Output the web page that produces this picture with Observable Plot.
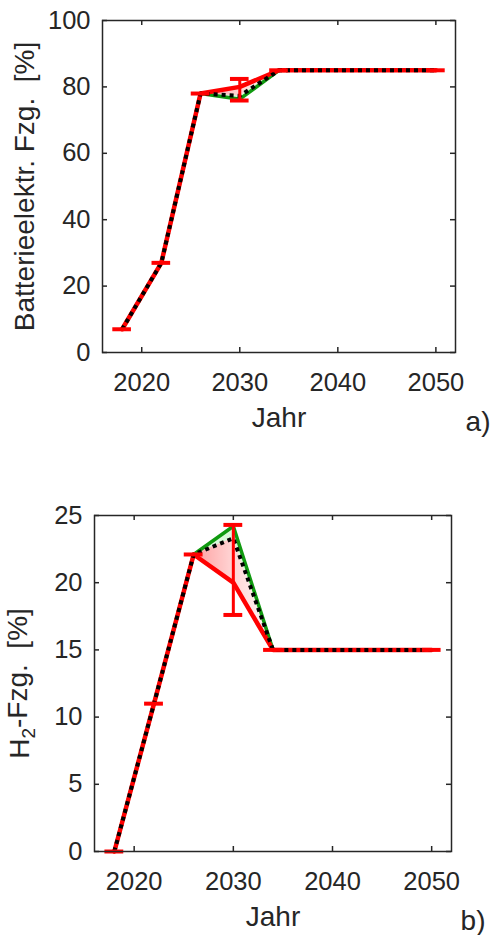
<!DOCTYPE html>
<html><head><meta charset="utf-8">
<script src="https://cdn.jsdelivr.net/npm/d3@7"></script>
<script src="https://cdn.jsdelivr.net/npm/@observablehq/plot@0.6"></script>
<style>
body{margin:0;background:#fff;}
#chart{width:491px;height:935px;overflow:hidden;}
svg{display:block;}
</style>
</head><body><div id="chart"></div>
<script>
const years = [2018, 2022, 2026, 2030, 2034, 2050];
const xTicks = [2020, 2030, 2040, 2050];

// Panel a) Batterieelektr. Fzg. [%]
const aMid   = [7, 27, 78, 77.3, 85, 85];
const aRed   = [7, 27, 78, 80.0, 85, 85];
const aGreen = [7, 27, 78, 76.3, 85, 85];
const aLo    = [7, 27, 78, 75.9, 85, 85];
const aHi    = [7, 27, 78, 82.4, 85, 85];
const aTicks = [0, 20, 40, 60, 80, 100];

// Panel b) H2-Fzg. [%]
const bMid   = [0, 11, 22.1, 23.3, 15, 15];
const bRed   = [0, 11, 22.1, 20.0, 15, 15];
const bGreen = [0, 11, 22.1, 24.2, 15, 15];
const bLo    = [0, 11, 22.1, 17.6, 15, 15];
const bHi    = [0, 11, 22.1, 24.3, 15, 15];
const bTicks = [0, 5, 10, 15, 20, 25];

const INK = "#262626";
const RED = "#ff0000";
const GREEN = "#109a10";
const capHalf = 0.95;
const TICKFS = 25.5;
const LABELFS = 28;

function panel(o) {
  const rows = years.map((year, i) => ({year, mid: o.mid[i], red: o.red[i], green: o.green[i], lo: o.lo[i], hi: o.hi[i]}));
  const caps = rows.flatMap(d => d.hi > d.lo ? [{year: d.year, y: d.lo}, {year: d.year, y: d.hi}] : [{year: d.year, y: d.lo}]);
  const m = o.margins;
  const ph = o.height - m.top - m.bottom;
  const pw = o.width - m.left - m.right;
  const gid = "grad-" + o.tag.replace(/\W/g, "");
  // defs mark: a gradient positioned through the x scale
  const gradientMark = (index, scales) => {
    const defs = d3.create("svg:defs");
    const g = defs.append("linearGradient").attr("id", gid).attr("gradientUnits", "userSpaceOnUse")
      .attr("x1", scales.x(2026)).attr("x2", scales.x(2033.5)).attr("y1", 0).attr("y2", 0);
    g.append("stop").attr("offset", 0).attr("stop-color", RED).attr("stop-opacity", 0.38);
    g.append("stop").attr("offset", 0.55).attr("stop-color", RED).attr("stop-opacity", 0.16);
    g.append("stop").attr("offset", 1).attr("stop-color", RED).attr("stop-opacity", 0.04);
    return defs.node();
  };
  const svg = Plot.plot({
    width: o.width, height: o.height,
    marginTop: m.top, marginRight: m.right, marginBottom: m.bottom, marginLeft: m.left,
    x: {domain: [2016, 2052]},
    y: {domain: o.yDomain},
    style: {fontFamily: "'Liberation Sans', Arial, sans-serif", fontSize: TICKFS + "px", color: INK, background: "#fff"},
    marks: [
      gradientMark,
      Plot.areaY(rows, {x: "year", y1: "mid", y2: "red", fill: `url(#${gid})`, curve: "linear"}),
      Plot.areaY(rows, {x: "year", y1: "mid", y2: "green", fill: "#33dd33", fillOpacity: 0.18, curve: "linear"}),
      Plot.lineY(rows, {x: "year", y: "green", stroke: GREEN, strokeWidth: 3.5}),
      Plot.lineY(rows, {x: "year", y: "red", stroke: RED, strokeWidth: 4.5}),
      Plot.lineY(rows, {x: "year", y: "mid", stroke: "#000", strokeWidth: 4, strokeDasharray: "4,4", strokeLinecap: "butt"}),
      Plot.ruleX(rows.filter(d => d.hi > d.lo), {x: "year", y1: "lo", y2: "hi", stroke: RED, strokeWidth: 3}),
      Plot.ruleY(caps, {y: "y", x1: d => d.year - capHalf, x2: d => d.year + capHalf, stroke: RED, strokeWidth: 4}),
      Plot.frame({stroke: INK, strokeWidth: 1.5}),
      Plot.ruleX(xTicks, {x: d => d, insetTop: ph - 5, stroke: INK, strokeWidth: 1.5}),
      Plot.ruleX(xTicks, {x: d => d, insetBottom: ph - 5, stroke: INK, strokeWidth: 1.5}),
      Plot.ruleY(o.yTicks, {y: d => d, insetRight: pw - 5, stroke: INK, strokeWidth: 1.5}),
      Plot.ruleY(o.yTicks, {y: d => d, insetLeft: pw - 5, stroke: INK, strokeWidth: 1.5}),
      Plot.axisX(xTicks, {tickSize: 0, tickPadding: 20, tickFormat: d => String(d), label: null, fill: INK}),
      Plot.axisY(o.yTicks, {tickSize: 0, tickPadding: 12, label: null, fill: INK}),
      Plot.text(["Jahr"], {frameAnchor: "bottom", lineAnchor: "middle", textAnchor: "middle", dy: 66, fill: INK, fontSize: LABELFS}),
      Plot.text([o.tag], {frameAnchor: "bottom-right", textAnchor: "end", lineAnchor: "middle", dx: o.tagDx, dy: 70, fill: INK, fontSize: LABELFS}),
      Plot.text([o.yLabel], {frameAnchor: "left", textAnchor: "middle", lineAnchor: "middle", rotate: -90, dx: o.yLabelDx, fill: INK, fontSize: LABELFS})
    ]
  });
  d3.select(svg).selectAll("text").attr("xml:space", "preserve").style("white-space", "pre");
  return svg;
}

const chart = document.getElementById("chart");
const svgA = panel({
  mid: aMid, red: aRed, green: aGreen, lo: aLo, hi: aHi,
  yDomain: [0, 100], yTicks: aTicks,
  yLabel: "Batterieelektr. Fzg.  [%]", tag: "a)", tagDx: 35, yLabelDx: -77,
  width: 491, height: 467, margins: {top: 20, right: 36, bottom: 115, left: 102}
});
chart.appendChild(svgA);

const svgB = panel({
  mid: bMid, red: bRed, green: bGreen, lo: bLo, hi: bHi,
  yDomain: [0, 25], yTicks: bTicks,
  yLabel: "H2-Fzg.  [%]", tag: "b)", tagDx: 34, yLabelDx: -74,
  width: 491, height: 468, margins: {top: 48, right: 40, bottom: 84, left: 94}
});
chart.appendChild(svgB);

// subscript "2" in H2
d3.select(svgB).selectAll("text").filter(function() { return this.textContent === "H2-Fzg.  [%]"; })
  .each(function() {
    const t = d3.select(this);
    t.text(null);
    t.append("tspan").text("H");
    t.append("tspan").text("2").attr("font-size", "19px").attr("dy", "0.3em");
    t.append("tspan").text("-Fzg.  [%]").attr("dy", "-0.3em");
  });
</script>
</body></html>
